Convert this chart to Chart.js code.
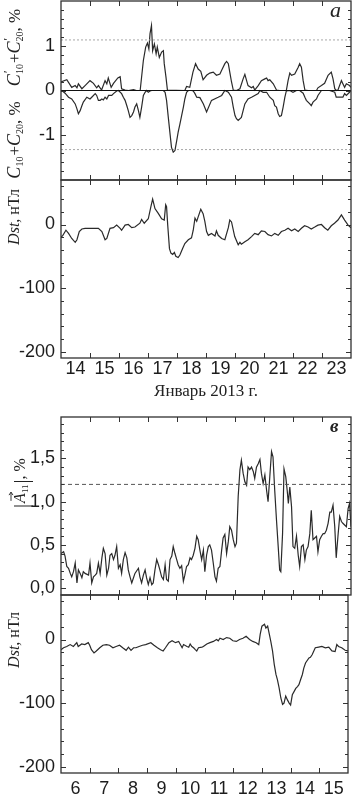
<!DOCTYPE html>
<html><head><meta charset="utf-8">
<script src="https://cdn.jsdelivr.net/npm/chart.js@4"></script>
<style>
html,body{margin:0;padding:0;background:#fff;}
#wrap{position:relative;width:353px;height:795px;overflow:hidden;background:#fff;}
canvas{position:absolute;left:0;}
</style></head><body>
<div id="wrap">
<canvas id="cA1" width="353" height="220" style="top:-20px"></canvas>
<canvas id="cA2" width="353" height="250" style="top:160px"></canvas>
<canvas id="cB1" width="353" height="240" style="top:380px"></canvas>
<canvas id="cB2" width="353" height="220" style="top:575px"></canvas>
</div>
<script>
// ---------- DATA ----------
// Panel a: C'10+C'20 (plotted upward) and C10+C20 (plotted downward), %, January 2013
const cpDays = [14.0,14.2,14.37,14.49,14.55,14.6,14.72,14.83,15.0,15.12,15.23,15.29,15.4,15.52,15.58,15.63,15.73,15.81,15.96,16.04,16.09,16.21,16.33,16.5,16.6,16.73,16.84,16.92,16.98,17.03,17.07,17.12,17.16,17.22,17.28,17.32,17.39,17.47,17.53,17.56,17.62,17.67,18.27,18.33,18.44,18.55,18.64,18.73,18.82,18.9,19.02,19.13,19.25,19.36,19.48,19.54,19.65,19.71,19.77,19.82,19.88,19.94,20.05,20.17,20.28,20.34,20.4,20.45,20.57,20.63,20.68,20.8,20.91,21.03,21.09,21.14,21.2,21.32,21.43,21.54,21.77,21.83,21.89,21.95,22.06,22.18,22.23,22.29,22.35,22.41,22.52,22.81,22.86,22.98,23.09,23.21,23.32,23.38,23.44,23.49,23.55,23.67,23.72,23.78,23.84,23.95,24.0];
const cpVals = [0.19,0.24,0.07,0.11,0.06,0.15,0.04,0.11,0.22,0.16,0.06,0.11,0.01,0.22,0.15,0.28,0.07,0.16,0.28,0.31,0.04,0.01,0,0.02,0,0,0.67,0.97,1.06,0.93,1.27,1.45,0.89,1.04,0.82,0.97,0.74,0.86,0.89,0.6,0.3,0.01,0,0.09,0.07,0.41,0.6,0.48,0.43,0.24,0.34,0.39,0.41,0.34,0.37,0.45,0.6,0.65,0.6,0.41,0.19,0.01,0,0.04,0.26,0.36,0.22,0.11,0.06,0.09,0.01,0.11,0.22,0.26,0.28,0.22,0.24,0.15,0.01,0,0,0.22,0.39,0.34,0.37,0.52,0.6,0.52,0.22,0.01,0,0,0.06,0.11,0.16,0.34,0.41,0.26,0.04,0,0.01,0.22,0.15,0.07,0.15,0.11,0.07];
const cDays = [14.03,14.14,14.26,14.37,14.49,14.55,14.6,14.66,14.72,14.77,14.89,15.0,15.06,15.18,15.23,15.29,15.35,15.41,15.46,15.52,15.58,15.64,15.75,15.81,15.92,15.98,16.09,16.15,16.21,16.27,16.32,16.38,16.44,16.5,16.55,16.61,16.67,16.72,16.78,16.84,16.9,16.95,17.01,17.07,17.13,17.53,17.59,17.64,17.7,17.76,17.81,17.87,17.93,17.99,18.04,18.1,18.16,18.22,18.27,18.33,18.39,18.5,18.56,18.62,18.68,18.79,18.91,19.02,19.19,19.42,19.54,19.65,19.77,19.88,19.94,20.0,20.05,20.11,20.22,20.28,20.34,20.45,20.57,20.68,20.8,20.86,20.97,21.09,21.2,21.32,21.37,21.43,21.49,21.54,21.6,21.66,21.72,21.77,21.89,22.0,22.12,22.23,22.35,22.41,22.46,22.58,22.63,22.69,22.81,22.86,22.98,23.26,23.44,23.49,23.61,23.72,23.78,23.84,23.95,24.0];
const cVals = [0,-0.06,-0.15,-0.19,-0.3,-0.41,-0.52,-0.45,-0.34,-0.26,-0.15,-0.19,-0.15,-0.07,-0.11,-0.22,-0.22,-0.19,-0.21,-0.15,-0.19,-0.11,-0.11,-0.07,-0.01,0,-0.07,-0.15,-0.22,-0.34,-0.45,-0.6,-0.56,-0.48,-0.37,-0.3,-0.45,-0.6,-0.37,-0.11,-0.04,0,-0.04,-0.01,0,0,-0.04,-0.22,-0.6,-0.97,-1.27,-1.38,-1.34,-1.12,-0.93,-0.75,-0.56,-0.37,-0.19,-0.04,0,0,-0.01,-0.07,-0.15,-0.16,-0.3,-0.48,-0.22,-0.15,-0.11,0,-0.04,-0.15,-0.37,-0.56,-0.63,-0.67,-0.6,-0.45,-0.3,-0.19,-0.15,-0.11,-0.07,0,-0.04,-0.04,-0.15,-0.22,-0.34,-0.37,-0.52,-0.58,-0.56,-0.37,-0.15,-0.01,0,-0.04,0,0,-0.06,-0.15,-0.22,-0.3,-0.34,-0.26,-0.19,-0.11,0,0,-0.04,-0.15,-0.15,-0.15,-0.07,-0.11,-0.04,0];
const refLinesA = [1.13, -1.32];
const zeroLineA = [0];

// Panel a: Dst, nT
const dstADays = [14.0,14.05,14.17,14.26,14.37,14.49,14.55,14.63,14.72,14.83,15.06,15.29,15.41,15.52,15.58,15.69,15.81,15.92,16.04,16.09,16.21,16.32,16.44,16.55,16.72,16.78,16.87,17.01,17.1,17.16,17.24,17.36,17.47,17.56,17.61,17.64,17.68,17.74,17.79,17.85,17.91,17.96,18.04,18.1,18.19,18.27,18.39,18.5,18.56,18.62,18.68,18.73,18.82,18.9,18.96,19.02,19.08,19.19,19.31,19.36,19.42,19.54,19.65,19.77,19.82,19.88,19.99,20.11,20.17,20.22,20.34,20.45,20.57,20.68,20.8,20.91,21.03,21.14,21.26,21.37,21.49,21.6,21.72,21.83,21.95,22.06,22.18,22.29,22.4,22.52,22.63,22.75,22.86,22.98,23.09,23.2,23.32,23.43,23.55,23.67,23.78,23.9,24.0];
const dstAVals = [-19,-18,-9,-14,-22,-28,-24,-11,-7,-6,-6,-6,-11,-24,-22,-6,-5,-1,-6,-9,-1,0,-5,-4,2,8,2,9,28,40,25,17,9,7,31,28,-1,-38,-45,-47,-44,-50,-52,-48,-38,-30,-24,-21,-9,10,5,12,24,17,5,-11,-17,-14,-18,-10,-17,-22,-24,-5,7,4,-19,-32,-28,-31,-27,-24,-19,-14,-16,-10,-11,-16,-18,-14,-17,-11,-9,-6,-10,-7,-11,-6,-2,-4,-7,-4,-1,0,-5,-9,-2,2,7,15,7,-1,-5];

// Panel b: |A11|, %
const aDays = [6.0,6.09,6.14,6.2,6.26,6.32,6.37,6.43,6.49,6.55,6.6,6.66,6.72,6.77,6.83,6.95,7.0,7.06,7.12,7.18,7.23,7.29,7.35,7.41,7.46,7.52,7.58,7.64,7.69,7.75,7.81,7.86,7.92,7.98,8.04,8.09,8.15,8.21,8.27,8.32,8.38,8.44,8.5,8.55,8.67,8.72,8.78,8.84,8.9,8.95,9.01,9.07,9.13,9.18,9.24,9.3,9.36,9.41,9.47,9.53,9.59,9.64,9.7,9.76,9.82,9.87,9.93,9.99,10.04,10.1,10.16,10.22,10.27,10.33,10.39,10.45,10.5,10.56,10.62,10.68,10.73,10.79,10.85,10.91,
  10.96,11.02,11.08,11.13,11.19,11.25,11.31,11.36,11.42,11.48,11.54,11.59,11.65,11.71,11.77,11.82,11.88,11.94,12.0,12.05,12.11,12.17,12.22,12.28,12.34,12.4,12.45,12.51,12.57,12.63,12.68,12.74,12.8,12.86,12.91,12.97,13.03,13.09,13.14,13.2,13.26,13.31,13.37,13.43,13.49,13.54,13.58,13.64,13.69,13.75,13.8,13.84,13.89,13.95,14.0,14.06,14.12,14.18,14.23,14.29,14.35,14.41,14.46,14.52,14.58,14.63,14.69,14.75,14.81,14.86,14.92,14.98,15.04,15.09,15.15,15.21,15.27,15.32,15.38,15.44,15.49,15.55,15.61,15.67,15.72,15.78,15.84,15.9,15.95,16.0];
const aVals = [0.40,0.42,0.37,0.25,0.23,0.17,0.13,0.19,0.29,0.06,0.21,0.17,0.12,0.19,0.17,0.15,0.29,0.06,0.13,0.15,0.17,0.29,0.17,0.35,0.46,0.40,0.15,0.23,0.38,0.40,0.33,0.38,0.48,0.23,0.27,0.17,0.33,0.41,0.35,0.21,0.13,0.06,0.12,0.17,0.23,0.13,0.06,0.15,0.21,0.12,0.04,0.12,0.04,0.06,0.21,0.33,0.27,0.21,0.13,0.10,0.27,0.10,0.08,0.33,0.37,0.48,0.40,0.33,0.27,0.23,0.26,0.08,0.15,0.25,0.27,0.35,0.33,0.38,0.46,0.60,0.56,0.44,0.33,0.44,
  0.19,0.38,0.48,0.50,0.44,0.29,0.13,0.08,0.23,0.25,0.44,0.58,0.62,0.40,0.54,0.71,0.67,0.56,0.48,0.52,1.06,1.37,1.48,1.33,1.23,1.19,1.40,1.37,1.40,1.35,1.27,1.40,1.44,1.49,1.33,1.21,1.31,1.13,1.0,1.29,1.58,1.52,1.13,0.79,0.48,0.21,0.19,0.63,1.38,1.29,1.13,0.98,1.17,0.94,0.48,0.46,0.60,0.38,0.25,0.48,0.50,0.33,0.44,0.48,0.63,0.90,0.56,0.58,0.60,0.42,0.56,0.60,0.63,0.63,0.67,0.75,0.88,0.88,0.96,0.71,0.35,0.60,0.83,0.77,0.75,0.73,0.71,0.92,0.98,0.71];
const refLinesB = [1.2];

// Panel b: Dst, nT
const dstBDays = [6.0,6.09,6.2,6.32,6.43,6.55,6.6,6.72,6.83,6.95,7.0,7.06,7.15,7.23,7.35,7.46,7.58,7.69,7.81,7.92,8.04,8.15,8.27,8.35,8.44,8.53,8.61,8.72,8.84,8.95,9.13,9.24,9.36,9.47,9.56,9.64,9.76,9.87,9.99,10.1,10.22,10.27,10.39,10.45,10.5,10.56,10.62,10.68,10.73,10.79,10.91,10.96,11.08,11.19,11.31,11.42,11.48,11.54,11.65,11.77,11.88,11.99,12.11,12.22,12.34,12.45,12.57,12.68,12.8,12.89,12.94,13.0,13.09,13.14,13.2,13.26,13.31,13.37,13.43,13.49,13.54,13.6,13.66,13.72,13.77,13.83,13.89,13.95,14.0,14.06,14.12,14.18,14.24,14.29,14.35,14.41,14.46,14.52,14.64,14.69,14.75,14.86,14.98,15.09,15.21,15.33,15.44,15.55,15.61,15.67,15.78,15.9,16.0];
const dstBVals = [-16,-13,-11,-8,-11,-5,-11,-7,-8,-5,-9,-16,-21,-18,-13,-9,-8,-9,-13,-11,-9,-13,-17,-12,-17,-13,-13,-11,-9,-8,-5,-9,-13,-16,-18,-13,-5,-2,-5,-3,-13,-8,-11,-12,-7,-11,-13,-16,-18,-13,-12,-11,-7,-5,-3,0,-2,2,0,3,2,-2,-3,0,2,5,0,-3,-5,-8,8,21,24,18,21,8,-3,-18,-39,-55,-63,-76,-92,-102,-100,-89,-95,-100,-103,-87,-82,-77,-74,-71,-63,-55,-45,-37,-29,-28,-24,-13,-12,-11,-13,-12,-18,-19,-8,-11,-13,-17,-18];

// Tick values and labels
const dayTicksA = [14,15,16,17,18,19,20,21,22,23,24];
const dayLabelsA = ['14','15','16','17','18','19','20','21','22','23',''];
const dayTicksB = [6,7,8,9,10,11,12,13,14,15,16];
const dayLabelsB = ['6','7','8','9','10','11','12','13','14','15',''];
const cTicks = [-1,0,1];
const cLabels = ['-1','0','1'];
const dstTicks = [-200,-100,0];
const dstLabels = ['-200','-100','0'];
const aTicks = [0,0.5,1,1.5];
const aLabels = ['0,0','0,5','1,0','1,5'];
const xTitleA = 'Январь 2013 г.';

// ---------- DRAWING ----------
const SANS = 'Liberation Sans', SERIF = 'Liberation Serif';
const LINE = '#2a2a2a';
const pts = (xs, ys) => xs.map((x, i) => ({x, y: ys[i]}));
const hline = (v, x0, x1) => [{x: x0, y: v}, {x: x1, y: v}];
function seriesDS(data){ return {data, borderColor: LINE, borderWidth: 1.2, pointRadius: 0, tension: 0, fill: false}; }
function refDS(v, x0, x1, color, dash, w){ return {data: hline(v, x0, x1), borderColor: color, borderWidth: w, borderDash: dash, pointRadius: 0, fill: false}; }

function steps(a, b, s){ const r=[]; for (let v=a; v<=b+1e-9; v+=s) r.push(Math.round(v*1000)/1000); return r; }

function framePlugin(opt){
  return { id: 'frame', afterDatasetsDraw(chart){
    const {ctx, chartArea: a, scales} = chart;
    ctx.save();
    ctx.strokeStyle = '#333'; ctx.lineWidth = 1;
    const y = scales.y, x = scales.x;
    const tick = (vals, len) => vals.forEach(v => {
      const p = Math.round(y.getPixelForValue(v)) + 0.5;
      ctx.beginPath(); ctx.moveTo(a.left, p); ctx.lineTo(a.left+len, p);
      ctx.moveTo(a.right, p); ctx.lineTo(a.right-len, p); ctx.stroke();
    });
    tick(opt.yMinor, 3); tick(opt.yMajor, 5);
    opt.xTicks.forEach(v => {
      const p = Math.round(x.getPixelForValue(v)) + 0.5;
      ctx.beginPath(); ctx.moveTo(p, a.top); ctx.lineTo(p, a.top+5);
      ctx.moveTo(p, a.bottom); ctx.lineTo(p, a.bottom-5); ctx.stroke();
    });
    ctx.lineWidth = 1.3; ctx.strokeStyle = '#303030';
    ctx.strokeRect(a.left, a.top, a.right - a.left, a.bottom - a.top);
    ctx.restore();
  }};
}

function runWidth(ctx, runs){
  let w = 0; for (const r of runs){ ctx.font = r.f; if (!r.stay) w += ctx.measureText(r.t).width + (r.gap||0); } return w;
}
function drawVText(ctx, x, yCenter, runs){
  ctx.save();
  const total = runWidth(ctx, runs);
  ctx.translate(x, yCenter + total/2);
  ctx.rotate(-Math.PI/2);
  ctx.textBaseline = 'alphabetic'; ctx.textAlign = 'left';
  ctx.fillStyle = '#222'; ctx.strokeStyle = '#222';
  let cx = 0;
  for (const r of runs){
    ctx.font = r.f;
    ctx.fillText(r.t, cx + (r.dx||0), r.dy||0);
    const w = ctx.measureText(r.t).width;
    if (r.arrow){
      const ay = -14, x0 = cx + 2, x1 = cx + w + 1;
      ctx.lineWidth = 0.9;
      ctx.beginPath(); ctx.moveTo(x0, ay); ctx.lineTo(x1, ay);
      ctx.moveTo(x1-3, ay-2); ctx.lineTo(x1, ay); ctx.lineTo(x1-3, ay+2); ctx.stroke();
    }
    if (!r.stay) cx += w + (r.gap||0);
  }
  ctx.restore();
}
function textPlugin(fn){ return { id: 'texts', afterDraw(chart){ fn(chart.ctx); } }; }

const I16 = `italic 16px "${SERIF}"`, R16 = `16px "${SERIF}"`, SUB = `9px "${SERIF}"`, PR = `12px "${SERIF}"`;
const I17 = `italic 18px "${SERIF}"`, R17 = `17px "${SERIF}"`, SUB10 = `10px "${SERIF}"`;
const labelCp = [{t:'C',f:I17},{t:'\u2032',f:PR,dy:-8,stay:true,dx:1},{t:'10',f:SUB10,dy:3,gap:1},{t:'+',f:R17},{t:'C',f:I17},{t:'\u2032',f:PR,dy:-8,stay:true,dx:1},{t:'20',f:SUB10,dy:3},{t:', %',f:R17}];
const labelC = [{t:'C',f:I17},{t:'10',f:SUB10,dy:3,gap:1},{t:'+',f:R17},{t:'C',f:I17},{t:'20',f:SUB10,dy:3},{t:', %',f:R17}];
const labelDst = [{t:'Dst',f:I16},{t:', нТл',f:R16}];
const labelA = [{t:'|',f:`20px "${SERIF}"`,dy:3,gap:1},{t:'A',f:I16,arrow:true},{t:'11',f:SUB,dy:3,gap:1},{t:'|',f:`20px "${SERIF}"`,dy:3},{t:', %',f:R16}];

const tickFont = {family: SANS, size: 18};
function yScale(min, max, tv, tl){
  return { min, max, afterFit: s => { s.width = 61; },
    afterBuildTicks: s => { s.ticks = tv.map(v => ({value: v})); },
    grid: {display: false, drawTicks: false}, border: {display: false},
    ticks: {padding: 6, color: '#1c1c1c', font: tickFont, callback: (v, i) => tl[i]} };
}
function xScale(min, max, tv, tl, show, h, pad, title){
  const s = { type: 'linear', min, max, display: show,
    afterBuildTicks: sc => { sc.ticks = tv.map(v => ({value: v})); },
    grid: {display: false, drawTicks: false}, border: {display: false},
    ticks: {autoSkip: false, maxRotation: 0, padding: pad, labelOffset: 14.5, color: '#1c1c1c', font: tickFont, callback: (v, i) => tl[i]} };
  if (show) s.afterFit = sc => { sc.height = h; };
  if (title) s.title = {display: true, text: title, color: '#222', font: {family: SERIF, size: 17}, padding: {top: 0, bottom: 8}};
  return s;
}
const base = (padding) => ({ responsive: false, maintainAspectRatio: false, animation: false, devicePixelRatio: 1, events: [],
  layout: {padding}, plugins: {legend: {display: false}, tooltip: {enabled: false}} });

// Panel a, top
new Chart(document.getElementById('cA1'), {
  type: 'line',
  data: {datasets: [
    refDS(zeroLineA[0], 14, 24, '#111', [], 1.2),
    refDS(refLinesA[0], 14, 24, '#a8a8a8', [2, 2], 1),
    refDS(refLinesA[1], 14, 24, '#a8a8a8', [2, 2], 1),
    seriesDS(pts(cpDays, cpVals)),
    seriesDS(pts(cDays, cVals))
  ]},
  options: Object.assign(base({left: 0, right: 2, top: 21, bottom: 20}), {
    scales: {x: xScale(14, 24, dayTicksA, dayLabelsA, false), y: yScale(-2, 2, cTicks, cLabels)}
  }),
  plugins: [framePlugin({yMinor: steps(-1.8, 1.8, 0.2), yMajor: cTicks, xTicks: dayTicksA.slice(1, -1)}),
    textPlugin(ctx => {
      drawVText(ctx, 20, 47.5 + 20, labelCp);
      drawVText(ctx, 20, 140 + 20, labelC);
      ctx.save(); ctx.font = `italic 22px "${SERIF}"`; ctx.fillStyle = '#222'; ctx.fillText('а', 330, 17 + 20); ctx.restore();
    })]
});

// Panel a, Dst
new Chart(document.getElementById('cA2'), {
  type: 'line',
  data: {datasets: [seriesDS(pts(dstADays, dstAVals))]},
  options: Object.assign(base({left: 0, right: 2, top: 20, bottom: 0}), {
    scales: {x: xScale(14, 24, dayTicksA, dayLabelsA, true, 52, 0, xTitleA), y: yScale(-210, 70, dstTicks, dstLabels)}
  }),
  plugins: [framePlugin({yMinor: steps(-200, 60, 20), yMajor: dstTicks, xTicks: dayTicksA.slice(1, -1)}),
    textPlugin(ctx => { drawVText(ctx, 19, 217 - 160, labelDst); })]
});

// Panel b, |A11|
new Chart(document.getElementById('cB1'), {
  type: 'line',
  data: {datasets: [
    refDS(refLinesB[0], 6, 16, '#555', [4, 3], 1),
    seriesDS(pts(aDays, aVals))
  ]},
  options: Object.assign(base({left: 0, right: 2, top: 37, bottom: 25}), {
    scales: {x: xScale(6, 16, dayTicksB, dayLabelsB, false), y: yScale(-0.08, 1.98, aTicks, aLabels)}
  }),
  plugins: [framePlugin({yMinor: steps(0, 1.9, 0.1), yMajor: aTicks, xTicks: dayTicksB.slice(1, -1)}),
    textPlugin(ctx => {
      drawVText(ctx, 25, 483 - 380, labelA);
      ctx.save(); ctx.font = `italic bold 19px "${SERIF}"`; ctx.fillStyle = '#222'; ctx.fillText('в', 330, 432 - 380); ctx.restore();
    })]
});

// Panel b, Dst
new Chart(document.getElementById('cB2'), {
  type: 'line',
  data: {datasets: [seriesDS(pts(dstBDays, dstBVals))]},
  options: Object.assign(base({left: 0, right: 2, top: 20, bottom: 0}), {
    scales: {x: xScale(6, 16, dayTicksB, dayLabelsB, true, 22, 5), y: yScale(-210, 70, dstTicks, dstLabels)}
  }),
  plugins: [framePlugin({yMinor: steps(-200, 60, 20), yMajor: dstTicks, xTicks: dayTicksB.slice(1, -1)}),
    textPlugin(ctx => { drawVText(ctx, 19, 640 - 575, labelDst); })]
});
</script>
</body></html>
